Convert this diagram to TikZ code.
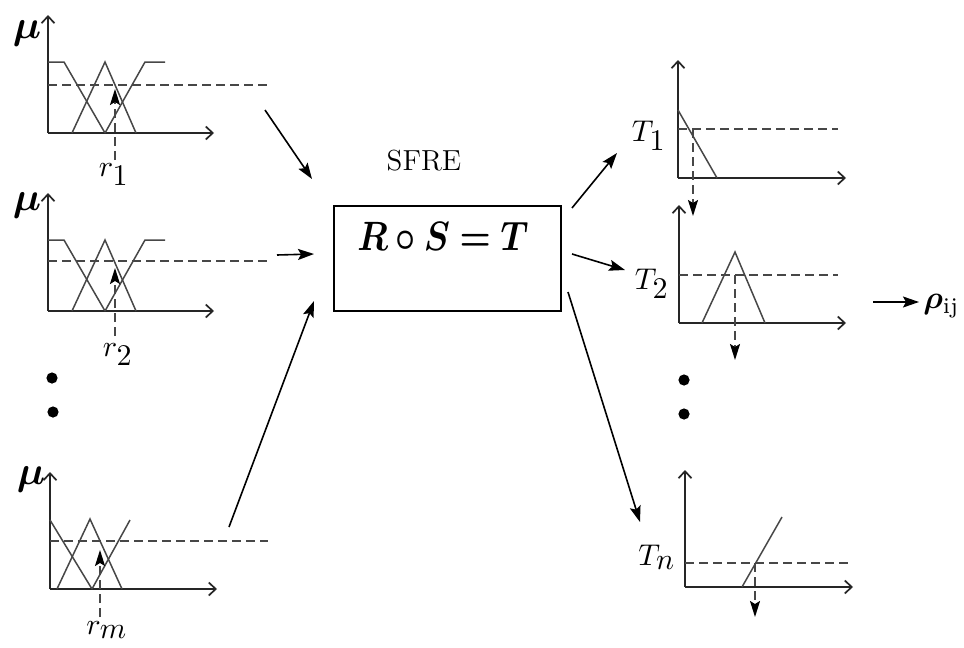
\documentclass[tikz,border=0pt]{standalone}
\usepackage{fontspec}
\usepackage{amsmath}
\usepackage{bm}
\usepackage{graphicx}
\usetikzlibrary{arrows.meta}
\newcommand{\sclab}[2]{\scalebox{#1}{#2}}
\begin{document}
\begin{tikzpicture}[x=0.5pt,y=-0.5pt,
  axis/.style={line width=0.85pt, draw=black!85, -{Straight Barb[length=3.5pt,width=6.5pt]}},
  mf/.style={line width=0.75pt, draw=black!72},
  dsh/.style={line width=0.8pt, draw=black!72, dash pattern=on 4.5pt off 2.5pt},
  darr/.style={dsh, -{Stealth[length=8pt,width=5pt,inset=1.5pt,color=black]}},
  flow/.style={line width=0.8pt, draw=black, -{Stealth[length=8pt,width=5.5pt,inset=1.5pt]}},
  lbl/.style={inner sep=0pt, font=\fontsize{10}{10}\selectfont},
  dotc/.style={fill=black}
]
\useasboundingbox (0,0) rectangle (964,648);

% ---------- left panel 1 ----------
\draw[axis] (48,133) -- (48,15);
\draw[axis] (48,133) -- (214,133);
\draw[mf] (48,62) -- (64,62) -- (105,133);
\draw[mf] (72,133) -- (105,62) -- (136,133);
\draw[mf] (105,133) -- (145,62) -- (165,62);
\draw[dsh] (48,85) -- (268,85);
\coordinate (r1s) at (115,160);
\coordinate (r1e) at (115,89);
\draw[darr] (r1s) -- (r1e);
\node[lbl] (mu1) at (27,34) {\sclab{2}{$\bm{\mu}$}};
\node[lbl] (r1) at (114,175) {\sclab{1.5}{$r_{\textstyle 1}$}};

% ---------- left panel 2 ----------
\begin{scope}[shift={(0,178)}]
\draw[axis] (48,133) -- (48,15);
\draw[axis] (48,133) -- (214,133);
\draw[mf] (48,62) -- (64,62) -- (105,133);
\draw[mf] (72,133) -- (105,62) -- (136,133);
\draw[mf] (105,133) -- (145,62) -- (165,62);
\draw[dsh] (48,83) -- (268,83);
\coordinate (r2s) at (115,158);
\coordinate (r2e) at (115,90);
\draw[darr] (r2s) -- (r2e);
\node[lbl] (mu2) at (27,27) {\sclab{2}{$\bm{\mu}$}};
\node[lbl] (r2) at (118,177) {\sclab{1.5}{$r_{\textstyle 2}$}};
\end{scope}

% left dots
\fill[dotc] (52,378) circle (2.8pt);
\fill[dotc] (53,412) circle (2.8pt);

% ---------- left panel 3 ----------
\draw[axis] (50,589) -- (50,472);
\draw[axis] (50,589) -- (217,589);
\draw[mf] (50,520) -- (92,589);
\draw[mf] (57,589) -- (90,519) -- (122,589);
\draw[mf] (92,589) -- (130,520);
\draw[dsh] (50,541) -- (268,541);
\coordinate (r3s) at (100,617);
\coordinate (r3e) at (100,550);
\draw[darr] (r3s) -- (r3e);
\node[lbl] (mu3) at (31,479) {\sclab{2}{$\bm{\mu}$}};
\node[lbl] (rm) at (107,630) {\sclab{1.5}{$r_{\textstyle m}$}};

% ---------- centre ----------
\node[inner sep=0pt, font=\fontsize{14.5}{14.5}\selectfont] (sfre) at (424,161) {SFRE};
\node[draw, line width=0.75pt, minimum width=113.5pt, minimum height=52.5pt, inner sep=0pt] (box) at (447.5,258.5) {};
\node[lbl] (eq) at (443,236) {\scalebox{1.75}[2.05]{$\bm{R\circ S=T}$}};

\coordinate (a1s) at (265,110); \coordinate (a1e) at (312,179);
\coordinate (a2s) at (277,255); \coordinate (a2e) at (314,254);
\coordinate (a3s) at (229,527); \coordinate (a3e) at (314,301);
\draw[flow] (a1s) -- (a1e);
\draw[flow] (a2s) -- (a2e);
\draw[flow] (a3s) -- (a3e);

\coordinate (b1s) at (572,208); \coordinate (b1e) at (617,153);
\coordinate (b2s) at (572,254); \coordinate (b2e) at (625,270);
\coordinate (b3s) at (568,292); \coordinate (b3e) at (640,522);
\draw[flow] (b1s) -- (b1e);
\draw[flow] (b2s) -- (b2e);
\draw[flow] (b3s) -- (b3e);

% ---------- right panel T1 ----------
\draw[axis] (678,178) -- (678,60);
\draw[axis] (678,178) -- (846,178);
\draw[mf] (678,110) -- (717,178);
\draw[dsh] (678,129) -- (838,129);
\coordinate (t1s) at (693,129); \coordinate (t1e) at (693,216);
\draw[darr] (t1s) -- (t1e);
\node[lbl] (T1) at (649,136) {\sclab{1.5}{$T_{\textstyle 1}$}};

% ---------- right panel T2 ----------
\draw[axis] (679,323) -- (679,205);
\draw[axis] (679,323) -- (846,323);
\draw[mf] (702,323) -- (735,252) -- (765,323);
\draw[dsh] (679,275) -- (838,275);
\coordinate (t2s) at (735,275); \coordinate (t2e) at (735,360);
\draw[darr] (t2s) -- (t2e);
\node[lbl] (T2) at (652,284) {\sclab{1.5}{$T_{\textstyle 2}$}};

% right dots
\fill[dotc] (684,380) circle (2.8pt);
\fill[dotc] (684,414) circle (2.8pt);

% ---------- right panel Tn ----------
\draw[axis] (685,587) -- (685,470);
\draw[axis] (685,587) -- (853,587);
\draw[mf] (742,587) -- (782,517);
\draw[dsh] (685,563) -- (853,563);
\coordinate (t3s) at (755,563); \coordinate (t3e) at (755,617);
\draw[darr] (t3s) -- (t3e);
\node[lbl] (Tn) at (657,557) {\sclab{1.5}{$T_{\textstyle n}$}};

% ---------- output ----------
\coordinate (cs) at (873,302); \coordinate (ce) at (919,302);
\draw[flow] (cs) -- (ce);
\node[lbl, anchor=west] (rho) at (923,306) {\sclab{1.6}{$\bm{\rho}_{\mathrm{ij}}$}};
\end{tikzpicture}
\end{document}
